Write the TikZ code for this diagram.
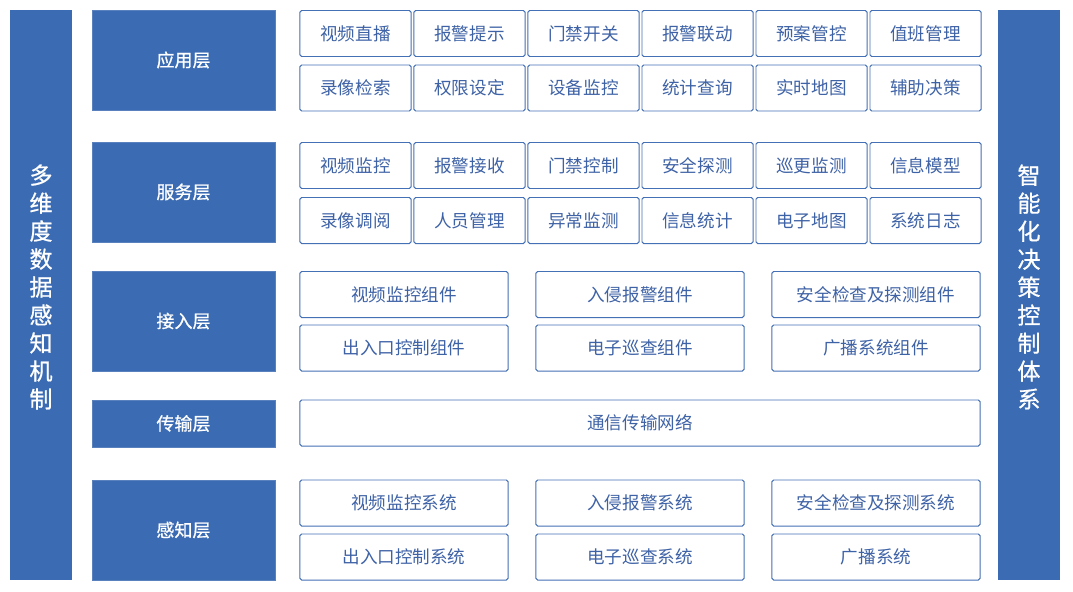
\documentclass[tikz,border=0pt]{standalone}
\usepackage{fontspec}
\setmainfont{Noto Sans CJK SC}
\newfontfamily\layerfont[FakeBold=0.8]{Noto Sans CJK SC}
\usepackage{xcolor}
\usepackage{tikz}
\definecolor{layerblue}{HTML}{3A6BB3}
\definecolor{itemline}{HTML}{4470B5}
\definecolor{itemtext}{HTML}{3E62A6}
\tikzset{
  layer/.style={fill=layerblue, draw=layerblue!85!white, line width=0.4pt, text=white, minimum width=4.575cm, minimum height=2.5cm, inner sep=0pt, font=\layerfont\fontsize{12.8}{15}\selectfont},
  item/.style={draw=itemline, line width=0.7pt, rounded corners=1.2pt, fill=white, text=itemtext, minimum height=1.15cm, inner sep=0pt, font=\fontsize{12.5}{15}\selectfont},
  sidebar/.style={fill=layerblue, text=white, minimum width=1.55cm, minimum height=14.25cm, inner sep=0pt, align=center}
}
\begin{document}
\begin{tikzpicture}[x=0.025cm, y=-0.025cm]
\useasboundingbox (0,0) rectangle (1073,592);
\node[sidebar] (sense-mech) at (41,295) {};
\node[align=center, text=white, font=\layerfont\fontsize{16.4}{19.9}\selectfont] (sense-text) at (41,287) {多\\维\\度\\数\\据\\感\\知\\机\\制};
\node[sidebar] (ctrl-sys) at (1029,295) {};
\node[align=center, text=white, font=\layerfont\fontsize{16.4}{19.9}\selectfont] (ctrl-text) at (1029,287) {智\\能\\化\\决\\策\\控\\制\\体\\系};
\node[layer] (app) at (183.5,60) {应用层};
\node[layer] (svc) at (183.5,192) {服务层};
\node[layer] (acc) at (183.5,321) {接入层};
\node[layer, minimum height=1.175cm] (trans) at (183.5,423.5) {传输层};
\node[layer] (perc) at (183.5,530) {感知层};
\foreach \t [count=\i from 0] in {视频直播,报警提示,门禁开关,报警联动,预案管控,值班管理}
  \node[item, minimum width=2.775cm] (app-a\i) at ({355.5+114*\i},33.5) {\t};
\foreach \t [count=\i from 0] in {录像检索,权限设定,设备监控,统计查询,实时地图,辅助决策}
  \node[item, minimum width=2.775cm] (app-b\i) at ({355.5+114*\i},88) {\t};
\foreach \t [count=\i from 0] in {视频监控,报警接收,门禁控制,安全探测,巡更监测,信息模型}
  \node[item, minimum width=2.775cm] (svc-a\i) at ({355.5+114*\i},165.5) {\t};
\foreach \t [count=\i from 0] in {录像调阅,人员管理,异常监测,信息统计,电子地图,系统日志}
  \node[item, minimum width=2.775cm] (svc-b\i) at ({355.5+114*\i},220.5) {\t};
\foreach \t [count=\i from 0] in {视频监控组件,入侵报警组件,安全检查及探测组件}
  \node[item, minimum width=5.2cm] (acc-a\i) at ({404+236*\i},294.5) {\t};
\foreach \t [count=\i from 0] in {出入口控制组件,电子巡查组件,广播系统组件}
  \node[item, minimum width=5.2cm] (acc-b\i) at ({404+236*\i},348) {\t};
\node[item, minimum width=17cm] (net) at (640,423) {通信传输网络};
\foreach \t [count=\i from 0] in {视频监控系统,入侵报警系统,安全检查及探测系统}
  \node[item, minimum width=5.2cm] (perc-a\i) at ({404+236*\i},503) {\t};
\foreach \t [count=\i from 0] in {出入口控制系统,电子巡查系统,广播系统}
  \node[item, minimum width=5.2cm] (perc-b\i) at ({404+236*\i},557) {\t};
\end{tikzpicture}
\end{document}
